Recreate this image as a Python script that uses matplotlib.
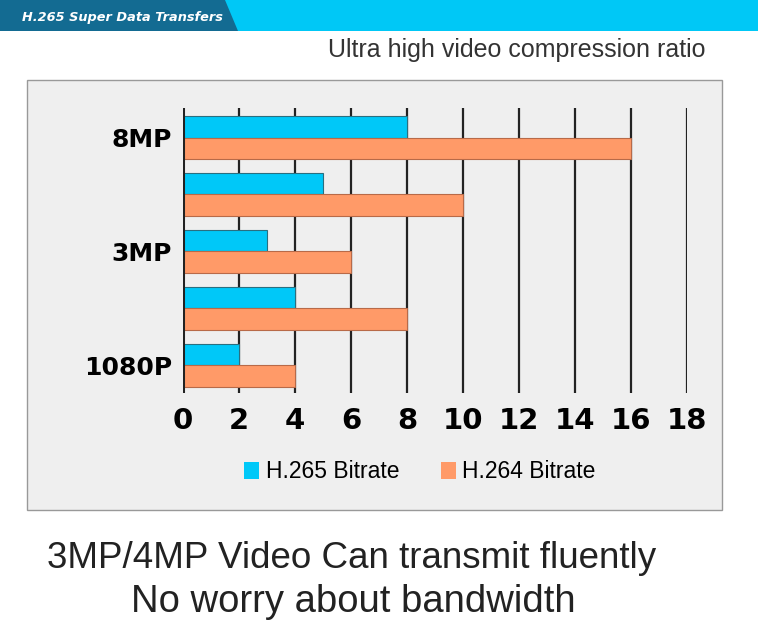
import matplotlib.pyplot as plt
from matplotlib.patches import Rectangle, Polygon, Patch

categories = ["8MP", "", "3MP", "", "1080P"]
h265 = [8, 5, 3, 4, 2]
h264 = [16, 10, 6, 8, 4]
xticks = [0, 2, 4, 6, 8, 10, 12, 14, 16, 18]

W, H = 758, 623
fig = plt.figure(figsize=(W / 100, H / 100), dpi=100)
fig.patch.set_facecolor("white")
cond = dict(family="DejaVu Sans", fontweight="bold")

# banner
fig.patches.append(Rectangle((0, 1 - 31 / H), 1, 31 / H, transform=fig.transFigure,
                             facecolor="#00c8f6", edgecolor="none", zorder=0))
fig.patches.append(Polygon([(0, 1), (225 / W, 1), (238 / W, 1 - 31 / H), (0, 1 - 31 / H)],
                           closed=True, transform=fig.transFigure,
                           facecolor="#136b92", edgecolor="none", zorder=0))
fig.text(22 / W, 1 - 17 / H, "H.265 Super Data Transfers", color="white",
         fontsize=9.3, style="italic", va="center", ha="left", **cond)
fig.text(705 / W, 1 - 50 / H, "Ultra high video compression ratio", color="#333333",
         fontsize=18, family="Liberation Sans", ha="right", va="center")

# grey panel
fig.patches.append(Rectangle((27 / W, 1 - 510 / H), 695 / W, 430 / H, transform=fig.transFigure,
                             facecolor="#efefef", edgecolor="#999999", linewidth=1, zorder=0))

ax = fig.add_axes([183 / W, 1 - 393 / H, 504 / W, 285 / H])
ax.set_zorder(2)
ax.set_facecolor("none")
y = list(range(len(categories)))
bh = 0.38
ax.barh([v - bh / 2 for v in y], h265, height=bh, color="#00c8f8",
        edgecolor="#2a6f80", linewidth=0.8, zorder=3)
ax.barh([v + bh / 2 for v in y], h264, height=bh, color="#ff9a68",
        edgecolor="#b86a48", linewidth=0.8, zorder=3)
ax.set_xlim(0, 18)
ax.set_ylim(4.49, -0.52)
ax.set_xticks(xticks)
ax.set_xticklabels([str(t) for t in xticks], fontsize=21, **cond)
ax.set_yticks(y)
ax.set_yticklabels(categories, fontsize=18, **cond)
ax.tick_params(axis="x", length=0, pad=10)
ax.tick_params(axis="y", length=0, pad=8)
ax.grid(axis="x", color="#222222", linewidth=1.6, zorder=0)
for s in ax.spines.values():
    s.set_visible(False)
ax.axvline(0, color="#222222", linewidth=2.2, zorder=4)

handles = [Patch(facecolor="#00c8f8", edgecolor="none", label="H.265 Bitrate"),
           Patch(facecolor="#ff9a68", edgecolor="none", label="H.264 Bitrate")]
fig.legend(handles=handles, loc="center", bbox_to_anchor=(420 / W, 1 - 472 / H), ncol=2,
           frameon=False, handlelength=0.65, handleheight=0.8, columnspacing=1.8,
           handletextpad=0.3, prop={"family": "Liberation Sans", "size": 16.5})

fig.text(352 / W, 1 - 558 / H, "3MP/4MP Video Can transmit fluently", fontsize=26.5,
         family="Liberation Sans", color="#222222", ha="center", va="center")
fig.text(353 / W, 1 - 602 / H, "No worry about bandwidth", fontsize=27.5,
         family="Liberation Sans", color="#222222", ha="center", va="center")

fig.savefig("out.png", dpi=100)
